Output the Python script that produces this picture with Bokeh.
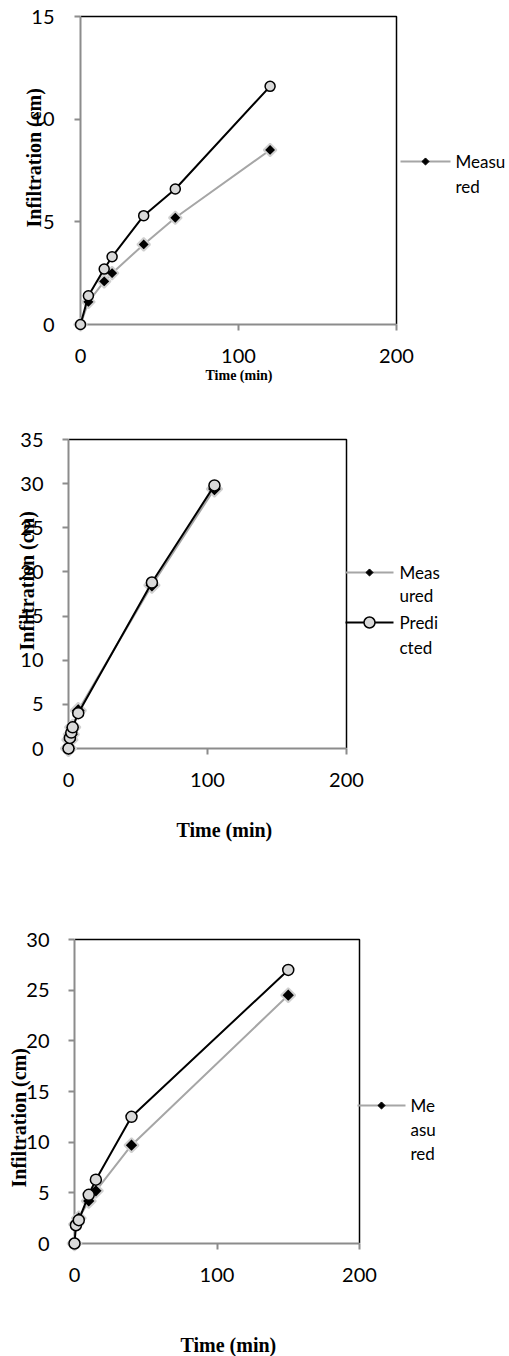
import math
from bokeh.plotting import figure
from bokeh.models import Label, FixedTicker, Range1d, Title
from bokeh.embed import file_html
from bokeh.resources import INLINE

# ---------------- data ----------------
time1 = [0, 5, 15, 20, 40, 60, 120]
measured1 = [0, 1.1, 2.1, 2.5, 3.9, 5.2, 8.5]
predicted1 = [0, 1.4, 2.7, 3.3, 5.3, 6.6, 11.6]

time2 = [0, 1, 2, 3, 7, 60, 105]
measured2 = [0, 1.0, 1.6, 2.4, 4.3, 18.5, 29.4]
predicted2 = [0, 1.2, 1.8, 2.4, 4.0, 18.8, 29.8]

time3 = [0, 1, 3, 10, 15, 40, 150]
measured3 = [0, 1.9, 2.5, 4.2, 5.2, 9.7, 24.5]
predicted3 = [0, 1.8, 2.3, 4.8, 6.3, 12.5, 27.0]

x_ticks = [0, 100, 200]
y_ticks1 = [0, 5, 10, 15]
y_ticks2 = [0, 5, 10, 15, 20, 25, 30, 35]
y_ticks3 = [0, 5, 10, 15, 20, 25, 30]

x_title = "Time (min)"
y_title = "Infiltration (cm)"
# ---------------------------------------

FIG_W = 509
PAGE_RIGHT = FIG_W
TICK_FONT = "Lato"
TITLE_FONT = "Liberation Serif"
AXIS_GRAY = "#8c8c8c"
MEAS_LINE = "#a6a6a6"
PRED_FILL = "#d9d9d9"


def build(cfg, t, meas, pred, yticks, legend_lines, show_pred_legend):
    fig_top, fig_h = cfg["fig_top"], cfg["fig_h"]
    ax_x, x200 = cfg["ax_x"], cfg["x200"]
    ytop, y0 = cfg["ytop"], cfg["y0"]
    ymax = yticks[-1]
    ft = ytop - 3
    sx = (x200 - ax_x) / 200.0
    sy = (y0 - ytop) / float(ymax)

    def dx(px):
        return (px - ax_x) / sx

    def dy(py):
        return (y0 - py) / sy

    p = figure(width=FIG_W, height=fig_h, output_backend="svg", toolbar_location=None,
               x_range=Range1d(0, dx(PAGE_RIGHT)), y_range=Range1d(0, dy(ft)),
               min_border_left=ax_x, min_border_right=0,
               min_border_top=ft - fig_top, min_border_bottom=fig_top + fig_h - y0)
    p.outline_line_color = None
    p.grid.visible = False
    p.background_fill_color = "white"
    p.border_fill_color = "white"

    for ax, ticks, bnd in ((p.xaxis[0], x_ticks, (0, 200)), (p.yaxis[0], yticks, (0, ymax))):
        ax.ticker = FixedTicker(ticks=ticks)
        ax.bounds = bnd
        ax.axis_line_color = AXIS_GRAY
        ax.axis_line_width = 2
        ax.major_tick_line_color = AXIS_GRAY
        ax.major_tick_line_width = 2
        ax.major_tick_out = 6
        ax.major_tick_in = 0
        ax.minor_tick_line_color = None
        ax.major_label_text_font = TICK_FONT
        ax.major_label_text_font_size = "20px"
        ax.major_label_text_color = "black"
    p.xaxis[0].major_label_standoff = cfg["xstand"]
    p.yaxis[0].major_label_standoff = cfg["ystand"]
    if cfg["spacer"] > 0:
        # blank gap between the tick labels and the axis title
        p.xaxis[0].axis_label = "\u00a0"
        p.xaxis[0].axis_label_text_font_size = "10px"
        p.xaxis[0].axis_label_standoff = cfg["spacer"]

    # axis titles, placed beside the axes
    p.add_layout(Title(text=x_title, align="left", offset=cfg["xt_left"] - ax_x,
                       standoff=0, text_font=TITLE_FONT,
                       text_font_style="bold", text_font_size=cfg["xt_size"],
                       text_color="black"), "below")
    p.add_layout(Title(text=y_title, align="left", offset=y0 - cfg["yt_bottom"],
                       standoff=cfg["yt_stand"], text_font=TITLE_FONT,
                       text_font_style="bold", text_font_size="20px",
                       text_color="black"), "left")

    # top and right border of the plot box
    p.line([0, 200, 200], [ymax, ymax, 0], line_color="black", line_width=1.5)

    # series
    r1 = p.line(t, meas, line_color=MEAS_LINE, line_width=2)
    r2 = p.scatter(t, meas, marker="square", angle=math.pi / 4, size=cfg["dsize"],
                   fill_color="black", line_color="#d0d0d0", line_width=2)
    r3 = p.line(t, pred, line_color="black", line_width=2)
    r4 = p.scatter(t, pred, marker="circle", size=cfg["csize"], fill_color=PRED_FILL,
                   line_color="black", line_width=1.5)
    for r in (r1, r2, r3, r4):
        r.level = "overlay"

    # legend (drawn beside the plot box)
    lx0, lx1, ly = cfg["leg_x0"], cfg["leg_x1"], cfg["leg_y"]
    p.line([dx(lx0), dx(lx1)], [dy(ly), dy(ly)], line_color=MEAS_LINE, line_width=2)
    p.scatter([dx((lx0 + lx1) / 2)], [dy(ly)], marker="square", angle=math.pi / 4, size=5,
              fill_color="black", line_color="black")
    if show_pred_legend:
        py = cfg["leg_y2"]
        p.line([dx(lx0), dx(lx1)], [dy(py), dy(py)], line_color="black", line_width=2)
        p.scatter([dx((lx0 + lx1) / 2)], [dy(py)], marker="circle", size=11,
                  fill_color=PRED_FILL, line_color="black", line_width=1.5)
    for txt, yy in legend_lines:
        p.add_layout(Label(x=dx(cfg["leg_tx"]), y=dy(yy), text=txt, text_font=TICK_FONT,
                           text_font_size="17px", text_baseline="middle", text_align="left",
                           text_color="black"))
    return p


cfg1 = dict(fig_top=0, fig_h=400, ax_x=80, x200=396, ytop=16, y0=324,
            xstand=18, ystand=20, xt_size="14px", xt_left=205, spacer=0,
            yt_bottom=227, yt_stand=-32, dsize=9, csize=10,
            leg_x0=400, leg_x1=450, leg_y=161, leg_tx=455)
cfg2 = dict(fig_top=400, fig_h=450, ax_x=68, x200=346, ytop=439, y0=748,
            xstand=18, ystand=19, xt_size="20px", xt_left=176, spacer=13,
            yt_bottom=650, yt_stand=-40, dsize=11, csize=11,
            leg_x0=345, leg_x1=393, leg_y=572, leg_y2=622, leg_tx=399)
cfg3 = dict(fig_top=850, fig_h=506, ax_x=74, x200=359, ytop=939, y0=1243,
            xstand=18, ystand=19, xt_size="20px", xt_left=180, spacer=33,
            yt_bottom=1187, yt_stand=-12, dsize=10, csize=11,
            leg_x0=357, leg_x1=405, leg_y=1105, leg_tx=410)

p1 = build(cfg1, time1, measured1, predicted1, y_ticks1,
           [("Measu", 161), ("red", 186)], False)
p2 = build(cfg2, time2, measured2, predicted2, y_ticks2,
           [("Meas", 572), ("ured", 595), ("Predi", 622), ("cted", 647)], True)
p3 = build(cfg3, time3, measured3, predicted3, y_ticks3,
           [("Me", 1105), ("asu", 1129), ("red", 1153)], False)

# each chart is its own root so that their plot frames are not aligned to each other
open("out.html", "w").write(file_html([p1, p2, p3], INLINE))
